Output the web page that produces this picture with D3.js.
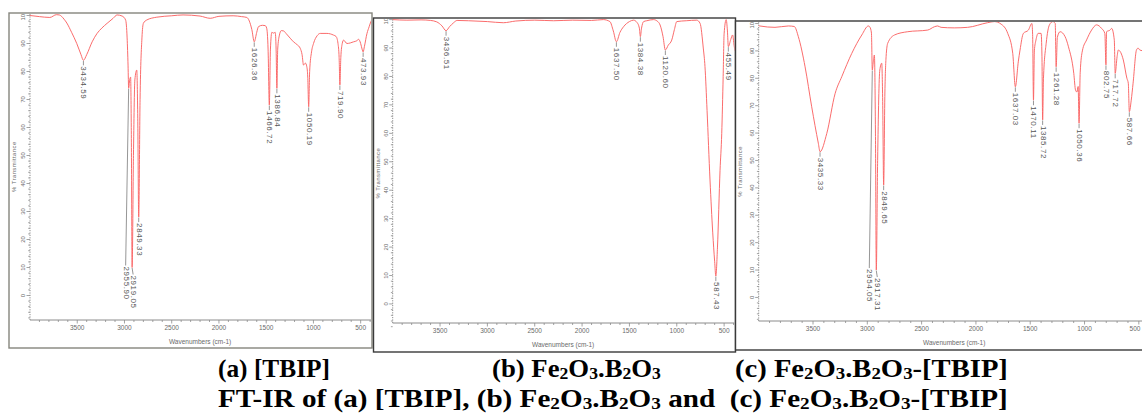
<!DOCTYPE html>
<html>
<head>
<meta charset="utf-8">
<script src="https://cdn.jsdelivr.net/npm/d3@7/dist/d3.min.js"></script>
<style>
  html, body { margin: 0; padding: 0; background: #ffffff; }
  svg { display: block; }
  .tick-lab { font-family: "Liberation Sans Narrow", "Liberation Sans", Arial, sans-serif; fill: #6a6a6a; }
  .peak-lab { font-family: "Liberation Sans", Arial, sans-serif; fill: #555; }
  .caption { font-family: "Liberation Serif", "Times New Roman", serif; font-weight: bold; fill: #000; }
</style>
</head>
<body>
<svg id="chart" width="1142" height="414"></svg>
<script>
// FT-IR spectra: [wavenumber (cm-1), % transmittance]
const spectrumA = [
  [4000,100],[3900,99.6],[3790,99.3],[3720,100.3],[3690,100.2],[3640,98.7],[3610,97.3],[3560,94],
  [3505,90],[3460,86],[3434.59,84],[3400,86],[3342,90.6],[3290,93.6],[3240,95.5],[3184,97.2],
  [3120,99],[3078,100.2],[3025,99.8],[2988,98.4],[2972,92],[2962,82],[2955.9,74],[2945,77],
  [2935,78],[2928,60],[2919.05,10],[2905,50],[2890,77],[2870,80.5],[2860,65],[2849.33,28],
  [2835,70],[2815,92],[2800,97.2],[2764,98.4],[2658,99.4],[2500,99.9],[2380,100.2],[2200,99.8],
  [2093,99],[2000,99.7],[1850,99.9],[1760,99.6],[1705,99.3],[1652,95],[1626.36,90.6],[1600,94],
  [1582,96],[1540,96.5],[1511,96.4],[1495,95.5],[1480,88],[1466.72,68],[1455,88],[1440,94],
  [1422,93.7],[1405,94],[1395,88],[1386.84,74],[1378,88],[1360,93],[1340,94.6],[1316,94.5],
  [1290,93.6],[1246,91.9],[1211,90.6],[1170,89.5],[1140,88.3],[1120,86],[1105,82.3],[1085,83],
  [1070,81.7],[1060,78],[1050.19,67.4],[1040,80],[1020,87],[999,90],[960,92.8],[928,93.6],
  [857,93.6],[787,93],[760,92.5],[740,90],[728,85],[719.9,75.2],[710,85],[695,90],[681,91.2],
  [645,90],[610,90.2],[575,90.6],[540,91],[522,91.5],[500,90],[485,88],[473.93,87],[460,89],
  [433,93.6],[410,96],[392,97.8],[382,98.5]
];
const peaksA = [3434.59, 2955.90, 2919.05, 2849.33, 1626.36, 1466.72, 1386.84, 1050.19, 719.90, 473.93];

const spectrumB = [
  [4000,100],[3850,99.8],[3700,99.9],[3600,99.7],[3535,99.2],[3480,97.8],[3436.51,96.1],[3400,97.5],
  [3360,98.8],[3320,99.7],[3200,99.6],[3000,99.3],[2832,98.9],[2700,99.5],[2500,99.8],[2300,99.6],
  [2100,99.8],[1900,99.7],[1776,100],[1706,99.3],[1670,96],[1637.5,92.2],[1600,95.5],[1562,97.5],
  [1500,99.3],[1457,99.8],[1420,99],[1395,97],[1384.38,94],[1372,97],[1350,99.3],[1317,99.6],
  [1246,100],[1200,99.3],[1176,98.1],[1145,94],[1120.6,89.3],[1090,91],[1053,92.8],[1025,96.5],
  [1000,99.3],[900,99.6],[789,99.8],[754,98.7],[720,90],[702,83.5],[680,68],[649,43.6],[620,25],
  [600,15],[587.43,9.8],[570,20],[543,47],[525,60],[510,80],[500,95],[478,100],[465,96],
  [455.49,90.5],[430,93],[410,94.6],[395,91],[385,89]
];
const peaksB = [3436.51, 1637.50, 1384.38, 1120.60, 587.43, 455.49];

const spectrumC = [
  [4000,99.2],[3990,99.1],[3850,98.6],[3727,99.1],[3672,98.9],[3635,95.2],[3573,84.2],[3512,69.6],
  [3451,56.3],[3435.33,53.2],[3373,59.9],[3296,74.5],[3235,80.6],[3143,89.1],[3051,95.8],
  [2990,99.1],[2975,98.6],[2962,96.5],[2954.05,83],[2945,86],[2935,88.5],[2925,60],[2917.31,10],
  [2905,50],[2885,83],[2867,85.5],[2858,70],[2849.65,41],[2838,75],[2827,87.9],[2812,92.8],
  [2750,95.8],[2628,97],[2444,97.6],[2383,98.8],[2352,99.1],[2321,98.6],[2200,98.4],[2076,98.6],
  [1892,100.3],[1830,100.7],[1769,99.8],[1707,96.4],[1661,89.1],[1637.03,76.9],[1610,86],
  [1594,90.3],[1563,96.4],[1517,97.6],[1485,100],[1478,96],[1470.11,72],[1462,90],[1447,94],
  [1427,96.4],[1400,96.4],[1392,88],[1385.72,64.8],[1378,80],[1353,92.8],[1323,99.5],[1292,100.7],
  [1270,100],[1261.28,84.2],[1250,95],[1225,97],[1179,95.2],[1148,91.5],[1099,81.8],[1083,75.7],
  [1070,75],[1059,77],[1050.36,63.6],[1040,82],[1020,90],[981,94],[935,97.6],[889,99.5],
  [843,98.2],[813,96.4],[797,97],[802.75,84.9],[765,97.6],[750,98.2],[726,94],[717.72,81.8],
  [700,88],[689,90.3],[643,86.7],[610,80],[597,78.2],[587.66,67.8],[570,72],[553,78.2],
  [522,90.3],[507,91],[490,90.3],[450,90],[420,91],[400,92]
];
const peaksC = [3435.33, 2954.05, 2917.31, 2849.65, 1637.03, 1470.11, 1385.72, 1261.28,
                1050.36, 802.75, 717.72, 587.66];

const xTickValues = [3500, 3000, 2500, 2000, 1500, 1000, 500];
const yTickValues = [0, 10, 20, 30, 40, 50, 60, 70, 80, 90, 100];
const yTitle = "% Transmittance";
const xTitle = "Wavenumbers (cm-1)";

// spectra need the points sorted from high to low wavenumber
spectrumC.sort((a, b) => b[0] - a[0]);

const svg = d3.select("#chart");
const W = 1142;

const panels = [
  { spectrum: spectrumA, peaks: peaksA,
    frame: { x0: 9, y0: 13, x1: 372, y1: 348 }, frameColor: "#85857d", frameWidth: 1.4,
    xDomain: [4000, 380], xRange: [30, 372],
    yDomain: [-8.75, 100], yRange: [320, 15.5], axisTop: 14 },
  { spectrum: spectrumB, peaks: peaksB,
    frame: { x0: 373.5, y0: 18, x1: 735.5, y1: 352 }, frameColor: "#3a3a3a", frameWidth: 1.4,
    xDomain: [4000, 385], xRange: [392.7, 735],
    yDomain: [-6.7, 100], yRange: [323, 19.6], axisTop: 19 },
  { spectrum: spectrumC, peaks: peaksC,
    frame: { x0: 735.5, y0: 21, x1: 1160, y1: 350 }, frameColor: "#3a3a3a", frameWidth: 1.4,
    xDomain: [4000, 400], xRange: [758.7, 1149.7],
    yDomain: [-8.6, 100], yRange: [321, 23.5], axisTop: 22 }
];

panels.forEach(p => {
  const g = svg.append("g");
  const f = p.frame;
  const x = d3.scaleLinear().domain(p.xDomain).range(p.xRange);
  const y = d3.scaleLinear().domain(p.yDomain).range(p.yRange);
  const xRight = Math.min(f.x1 - 1, W);

  // window frame
  g.append("rect")
    .attr("x", f.x0).attr("y", f.y0)
    .attr("width", f.x1 - f.x0).attr("height", f.y1 - f.y0)
    .attr("fill", "#ffffff")
    .attr("stroke", p.frameColor).attr("stroke-width", p.frameWidth);

  const clipId = "clip" + Math.round(f.x0);
  g.append("clipPath").attr("id", clipId)
    .append("rect")
    .attr("x", f.x0 + 1).attr("y", f.y0 + 1)
    .attr("width", f.x1 - f.x0 - 2).attr("height", f.y1 - f.y0 - 2);
  const inner = g.append("g").attr("clip-path", `url(#${clipId})`);

  const x0 = p.xRange[0];
  const yBase = p.yRange[0];

  // x axis: major ticks every 500, minor every 100
  inner.append("line")
    .attr("x1", x0).attr("x2", xRight)
    .attr("y1", yBase).attr("y2", yBase)
    .attr("stroke", "#8c8c8c").attr("stroke-width", 1);
  const minorX = d3.range(3900, 350, -100);
  inner.selectAll(null).data(minorX).join("line")
    .attr("x1", d => x(d)).attr("x2", d => x(d))
    .attr("y1", yBase).attr("y2", d => yBase + (d % 500 === 0 ? 3.5 : 2))
    .attr("stroke", "#8c8c8c").attr("stroke-width", 0.8);
  inner.selectAll(null).data(xTickValues).join("text")
    .attr("class", "tick-lab")
    .attr("x", d => Math.min(x(d), W - 7)).attr("y", yBase + 10)
    .attr("text-anchor", "middle")
    .attr("font-size", 6.5)
    .text(d => d);
  inner.append("text")
    .attr("class", "tick-lab")
    .attr("x", (x0 + Math.min(f.x1, x(400))) / 2).attr("y", yBase + 24)
    .attr("text-anchor", "middle")
    .attr("font-size", 6.5)
    .text(xTitle);

  // y axis: dotted spine, major ticks every 10, minor every 2
  inner.append("line")
    .attr("x1", x0).attr("x2", x0)
    .attr("y1", yBase).attr("y2", p.axisTop)
    .attr("stroke", "#8c8c8c").attr("stroke-width", 1)
    .attr("stroke-dasharray", "1.2,1.2");
  const minorY = d3.range(-8, 101, 2);
  inner.selectAll(null).data(minorY).join("line")
    .attr("x1", d => x0 - (d % 10 === 0 ? 3.5 : 1.8)).attr("x2", x0)
    .attr("y1", d => y(d)).attr("y2", d => y(d))
    .attr("stroke", "#8c8c8c").attr("stroke-width", 0.8);
  inner.selectAll(null).data(yTickValues).join("text")
    .attr("class", "tick-lab")
    .attr("transform", d => `translate(${x0 - 5},${y(d)}) rotate(-90)`)
    .attr("text-anchor", "middle")
    .attr("font-size", 6)
    .text(d => d);
  inner.append("text")
    .attr("class", "tick-lab")
    .attr("transform", `translate(${f.x0 + 5},${y(46)}) rotate(-90)`)
    .attr("text-anchor", "middle")
    .attr("dominant-baseline", "middle")
    .attr("font-size", 6)
    .attr("letter-spacing", 0.4)
    .text(yTitle);

  // spectrum trace
  const line = d3.line()
    .x(d => x(d[0])).y(d => y(d[1]))
    .curve(d3.curveMonotoneX);
  inner.append("path")
    .datum(p.spectrum)
    .attr("d", line)
    .attr("fill", "none")
    .attr("stroke", "#fa6464")
    .attr("stroke-width", 0.95)
    .attr("stroke-linejoin", "round");

  // peak labels, rotated beneath each band with a leader line
  const tips = p.peaks.map(w => {
    const pt = p.spectrum.find(d => Math.abs(d[0] - w) < 0.01);
    return { w, tx: x(w), ty: y(pt[1]) };
  });
  tips.forEach(t => {
    t.lx = t.tx; t.ly = t.ty + 6;
    const crowd = tips.find(o => o !== t && Math.abs(o.tx - t.tx) < 5 && o.ty > t.ty);
    if (crowd) { t.lx = t.tx - 3; t.ly = crowd.ty - 1; }
    const shallower = tips.find(o => o !== t && Math.abs(o.tx - t.tx) < 5 && o.ty < t.ty);
    if (shallower) { t.lx = t.tx + 1; t.ly = t.ty + 8; }
  });
  inner.selectAll(null).data(tips).join("line")
    .attr("x1", d => d.tx).attr("y1", d => d.ty + 0.5)
    .attr("x2", d => d.lx).attr("y2", d => d.ly - 1)
    .attr("stroke", "#8a8a8a").attr("stroke-width", 0.9);
  inner.selectAll(null).data(tips).join("text")
    .attr("class", "peak-lab")
    .attr("transform", d => `translate(${d.lx},${d.ly}) rotate(90)`)
    .attr("dominant-baseline", "middle")
    .attr("font-size", 8)
    .attr("letter-spacing", 0.6)
    .text(d => d.w.toFixed(2));
});

// captions below the panels
const capA = [["(a) [TBIP]", null]];
const capB = [["(b) Fe", null], ["2", "sub"], ["O", null], ["3", "sub"], [".B", null], ["2", "sub"], ["O", null], ["3", "sub"]];
const capC = [["(c) Fe", null], ["2", "sub"], ["O", null], ["3", "sub"], [".B", null], ["2", "sub"], ["O", null], ["3", "sub"], ["-[TBIP]", null]];
const titleParts = [["FT-IR of (a) [TBIP], (b) Fe", null], ["2", "sub"], ["O", null], ["3", "sub"], [".B", null], ["2", "sub"], ["O", null], ["3", "sub"],
  [" and\u00a0 (c) Fe", null], ["2", "sub"], ["O", null], ["3", "sub"], [".B", null], ["2", "sub"], ["O", null], ["3", "sub"], ["-[TBIP]", null]];

// writes a caption starting at x0 and fits it horizontally to span [x0, x1]
function caption(parts, x0, x1, baseline) {
  const t = svg.append("text").attr("class", "caption")
    .attr("x", x0).attr("y", baseline).attr("font-size", 26);
  let prevSub = false;
  parts.forEach(([s, kind]) => {
    const sp = t.append("tspan").text(s);
    if (kind === "sub") { sp.attr("font-size", "0.66em").attr("dy", prevSub ? 0 : 2); prevSub = true; }
    else { sp.attr("dy", prevSub ? -2 : 0); prevSub = false; }
  });
  const w = t.node().getBBox().width;
  const sx = (x1 - x0) / w;
  t.attr("transform", `translate(${x0},0) scale(${sx},1) translate(${-x0},0)`);
}
caption(capA, 218, 330, 377);
caption(capB, 492, 661, 377);
caption(capC, 735, 1008, 377);
caption(titleParts, 218, 1008, 407);
</script>
</body>
</html>
